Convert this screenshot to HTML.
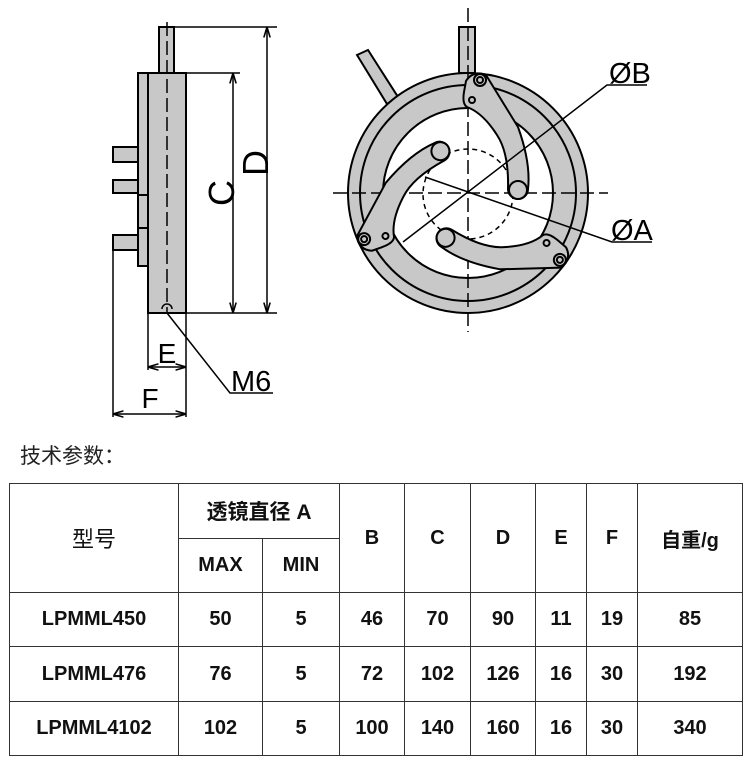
<!DOCTYPE html>
<html><head><meta charset="utf-8"><style>
html,body{margin:0;padding:0;background:#fff;width:750px;height:760px;overflow:hidden}
.t{position:absolute;left:20px;top:440px;font:21px "Liberation Sans","Noto Sans CJK SC",sans-serif;color:#222}
table{position:absolute;left:9px;top:483px;border-collapse:collapse;font:bold 20px "Liberation Sans","Noto Sans CJK SC",sans-serif;color:#111}
td{border:1.5px solid #333;text-align:center;padding:0}
</style></head><body>
<svg width="750" height="440" style="position:absolute;left:0;top:0" font-family="Liberation Sans, sans-serif">
<defs><marker id="a" viewBox="0 0 10 10" refX="10" refY="5" markerWidth="7" markerHeight="7" orient="auto-start-reverse"><path d="M0,2 L10,5 L0,8" fill="none" stroke="#000" stroke-width="1.5"/></marker></defs>
<g stroke="#000" stroke-width="2" fill="#c8c8c8">
<rect x="159" y="27" width="15" height="46"/>
<rect x="148" y="73" width="38" height="240"/>
<rect x="138" y="73" width="10" height="193"/>
<line x1="138" y1="195" x2="148" y2="195"/><line x1="138" y1="228" x2="148" y2="228"/>
<rect x="113" y="147" width="25" height="15"/>
<rect x="113" y="180" width="25" height="13"/>
<rect x="113" y="235" width="25" height="15"/>
</g>
<g stroke="#000" stroke-width="1.5" fill="none">
<line x1="167" y1="22" x2="167" y2="312" stroke-dasharray="14,5"/>
<path d="M162 309 A5 5 0 0 1 172 309"/>
<line x1="113" y1="250" x2="113" y2="417"/>
<line x1="174" y1="27" x2="277" y2="27"/><line x1="186" y1="73" x2="240" y2="73"/>
<line x1="186" y1="313" x2="277" y2="313"/>
<line x1="233" y1="73" x2="233" y2="313" marker-start="url(#a)" marker-end="url(#a)"/>
<line x1="267" y1="27" x2="267" y2="313" marker-start="url(#a)" marker-end="url(#a)"/>
<line x1="148" y1="313" x2="148" y2="370"/><line x1="186" y1="313" x2="186" y2="417"/>
<line x1="148" y1="367" x2="186" y2="367" marker-start="url(#a)" marker-end="url(#a)"/>
<line x1="113" y1="414" x2="186" y2="414" marker-start="url(#a)" marker-end="url(#a)"/>
<polyline points="167,313 230,393 273,393"/>
</g>
<text x="0" y="0" transform="translate(234,193) rotate(-90)" font-size="36" text-anchor="middle">C</text>
<text x="0" y="0" transform="translate(268,163) rotate(-90)" font-size="36" text-anchor="middle">D</text>
<text x="167" y="363" font-size="28" text-anchor="middle">E</text>
<text x="150" y="408" font-size="28" text-anchor="middle">F</text>
<text x="231" y="391" font-size="29">M6</text>
<g stroke="#000" stroke-width="2" fill="#c8c8c8">
<rect x="459" y="27" width="16" height="46"/>
<path d="M357 55 L368 50 L398 97 L387 104 Z"/>
<path fill-rule="evenodd" d="M348 193 A120 120 0 1 0 588 193 A120 120 0 1 0 348 193 Z M383 193 A85 85 0 1 0 553 193 A85 85 0 1 0 383 193 Z"/>
<circle cx="468" cy="193" r="108" fill="none"/>
</g>
<g stroke="#000" stroke-width="1.5" fill="none">
<line x1="468" y1="8" x2="468" y2="332" stroke-dasharray="14,5"/>
<line x1="333" y1="193" x2="608" y2="193" stroke-dasharray="14,5"/>
<circle cx="468" cy="194" r="45" stroke-dasharray="5,4"/>
</g>
<g transform="translate(468,193)" stroke="#000" stroke-width="2" fill="#c8c8c8">
<g id="arm"><path d="M-4,-101 L-2,-112 Q5,-123 18,-118 L50,-66 Q63,-30 60,-4 A10 10 0 0 1 40,-4 Q41,-40 29,-58 Q15,-80 -1,-86 Q-6,-89 -4,-101 Z"/>
<circle cx="12" cy="-113" r="6"/><circle cx="12" cy="-113" r="3"/><circle cx="4" cy="-93" r="3"/><circle cx="50" cy="-3" r="9"/></g>
<use href="#arm" transform="rotate(120)"/>
<use href="#arm" transform="rotate(240)"/>
</g>
<g stroke="#000" stroke-width="1.5" fill="none">
<polyline points="403,242 607,85 647,85"/>
<polyline points="425,177 612,242 652,242"/>
</g>
<text x="609" y="83" font-size="29">ØB</text>
<text x="611" y="240" font-size="29">ØA</text>
</svg>
<div class="t">技术参数：</div>
<table>
<tr style="height:55px"><td rowspan="2" style="width:168px;font-weight:normal;font-size:22px">型号</td><td colspan="2" style="font-size:21px">透镜直径 A</td><td rowspan="2" style="width:64px">B</td><td rowspan="2" style="width:65px">C</td><td rowspan="2" style="width:64px">D</td><td rowspan="2" style="width:50px">E</td><td rowspan="2" style="width:50px">F</td><td rowspan="2" style="width:104px">自重/g</td></tr>
<tr style="height:54px"><td style="width:83px">MAX</td><td style="width:76px">MIN</td></tr>
<tr style="height:54px"><td>LPMML450</td><td>50</td><td>5</td><td>46</td><td>70</td><td>90</td><td>11</td><td>19</td><td>85</td></tr>
<tr style="height:55px"><td>LPMML476</td><td>76</td><td>5</td><td>72</td><td>102</td><td>126</td><td>16</td><td>30</td><td>192</td></tr>
<tr style="height:54px"><td>LPMML4102</td><td>102</td><td>5</td><td>100</td><td>140</td><td>160</td><td>16</td><td>30</td><td>340</td></tr>
</table>
</body></html>
